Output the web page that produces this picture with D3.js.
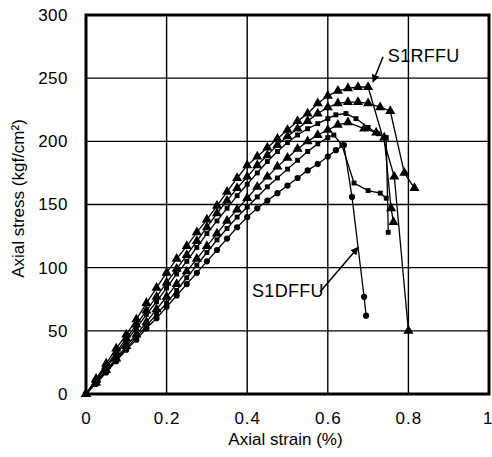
<!DOCTYPE html>
<html>
<head>
<meta charset="utf-8">
<script src="https://cdn.jsdelivr.net/npm/d3@7"></script>
<style>
  body { margin: 0; background: #fff; }
  text { font-family: "Liberation Sans", Arial, sans-serif; fill: #000; }
</style>
</head>
<body>
<div id="chart"></div>
<script>
// axial stress-strain curves, strain in %, stress in kgf/cm2
const xTicks = [0, 0.2, 0.4, 0.6, 0.8, 1];
const yTicks = [0, 50, 100, 150, 200, 250, 300];

const curve1 = [[0,0],[0.025,12],[0.05,24],[0.075,36],[0.1,47],[0.125,59],[0.15,72],[0.175,84],[0.2,96],[0.225,107],[0.25,117],[0.275,128],[0.3,138],[0.325,149],[0.35,160],[0.375,171],[0.4,181],[0.425,188],[0.45,195],[0.475,202],[0.5,209],[0.525,216],[0.55,222],[0.575,230],[0.6,236],[0.625,240],[0.65,242],[0.675,243],[0.70,243],[0.765,172],[0.80,50]];
const curve2 = [[0,0],[0.025,11],[0.05,22],[0.075,33],[0.1,44],[0.125,55],[0.15,66],[0.175,77],[0.2,88],[0.225,99],[0.25,110],[0.275,121],[0.3,132],[0.325,143],[0.35,153],[0.375,163],[0.4,172],[0.425,181],[0.45,189],[0.475,197],[0.5,204],[0.525,210],[0.55,216],[0.575,222],[0.6,227],[0.625,230],[0.65,231],[0.675,231],[0.70,230],[0.73,227],[0.755,224],[0.79,175],[0.815,163]];
const curve3 = [[0,0],[0.025,10],[0.05,21],[0.075,31],[0.1,42],[0.125,52],[0.15,63],[0.175,73],[0.2,84],[0.225,95],[0.25,105],[0.275,116],[0.3,127],[0.325,137],[0.35,147],[0.375,157],[0.4,166],[0.425,175],[0.45,184],[0.475,192],[0.5,199],[0.525,205],[0.55,210],[0.575,214],[0.6,218],[0.62,221],[0.645,222],[0.67,218],[0.70,211],[0.725,206],[0.745,203],[0.75,128]];
const curve4 = [[0,0],[0.025,9],[0.05,19],[0.075,28],[0.1,38],[0.125,47],[0.15,57],[0.175,67],[0.2,77],[0.225,87],[0.25,97],[0.275,107],[0.3,117],[0.325,127],[0.35,137],[0.375,146],[0.4,155],[0.425,164],[0.45,172],[0.475,180],[0.5,187],[0.525,194],[0.55,200],[0.575,205],[0.6,209],[0.625,213],[0.65,215],[0.69,210],[0.72,207],[0.74,203],[0.757,147],[0.763,136]];
const curve5 = [[0,0],[0.025,9],[0.05,18],[0.075,27],[0.1,36],[0.125,45],[0.15,54],[0.175,63],[0.2,72],[0.225,82],[0.25,92],[0.275,102],[0.3,112],[0.325,122],[0.35,131],[0.375,140],[0.4,148],[0.425,156],[0.45,164],[0.475,171],[0.5,178],[0.525,185],[0.55,192],[0.575,198],[0.6,203],[0.615,205],[0.635,197],[0.665,167],[0.70,161],[0.73,159],[0.745,155]];
const curve6 = [[0,0],[0.025,8],[0.05,17],[0.075,26],[0.1,35],[0.125,43],[0.15,52],[0.175,60],[0.2,69],[0.225,78],[0.25,87],[0.275,96],[0.3,105],[0.325,114],[0.35,123],[0.375,132],[0.4,140],[0.425,147],[0.45,153],[0.475,159],[0.5,165],[0.525,171],[0.55,177],[0.575,182],[0.6,188],[0.62,193],[0.64,197],[0.66,156],[0.69,77],[0.695,62]];

const series = [
    { data: curve1, marker: "triangle" },
    { data: curve2, marker: "triangle" },
    { data: curve3, marker: "square" },
    { data: curve4, marker: "triangle" },
    { data: curve5, marker: "square" },
    { data: curve6, marker: "circle" }
];

// label text, arrow start and arrow tip, in data units
const labels = [
    { text: "S1RFFU", at: [0.749, 263], from: [0.737, 267], to: [0.712, 247] },
    { text: "S1DFFU", at: [0.412, 77], from: [0.581, 81], to: [0.675, 116] }
];

const width = 492, height = 457;
const margin = { top: 15, right: 3, bottom: 63, left: 86 };

const svg = d3.select("#chart").append("svg")
    .attr("width", width)
    .attr("height", height);

const x = d3.scaleLinear().domain([0, 1]).range([margin.left, width - margin.right]);
const y = d3.scaleLinear().domain([0, 300]).range([height - margin.bottom, margin.top]);

// grid
svg.append("g")
    .selectAll("line.vx")
    .data(xTicks)
    .enter().append("line")
    .attr("x1", d => x(d)).attr("x2", d => x(d))
    .attr("y1", y(0)).attr("y2", y(300))
    .attr("stroke", "#000").attr("stroke-width", 1.4);

svg.append("g")
    .selectAll("line.hy")
    .data(yTicks)
    .enter().append("line")
    .attr("x1", x(0)).attr("x2", x(1))
    .attr("y1", d => y(d)).attr("y2", d => y(d))
    .attr("stroke", "#000").attr("stroke-width", 1.4);

// frame
svg.append("rect")
    .attr("x", x(0)).attr("y", y(300))
    .attr("width", x(1) - x(0)).attr("height", y(0) - y(300))
    .attr("fill", "none").attr("stroke", "#000").attr("stroke-width", 3);

// axes labels
const xAxis = d3.axisBottom(x).tickValues(xTicks).tickSize(0).tickPadding(18)
    .tickFormat(d3.format("~g"));
svg.append("g")
    .attr("transform", `translate(0,${y(0)})`)
    .call(xAxis)
    .call(g => g.select(".domain").remove())
    .selectAll("text")
    .style("font-size", "17px")
    .style("letter-spacing", "1px")
    .attr("fill", "#000")
    .attr("text-anchor", d => d === 1 ? "end" : "middle")
    .attr("dx", d => d === 1 ? 4 : 0);

const yAxis = d3.axisLeft(y).tickValues(yTicks).tickSize(0).tickPadding(18);
svg.append("g")
    .attr("transform", `translate(${x(0)},0)`)
    .call(yAxis)
    .call(g => g.select(".domain").remove())
    .selectAll("text")
    .style("font-size", "17px")
    .style("letter-spacing", "0.5px")
    .attr("fill", "#000");

svg.append("text")
    .attr("x", (x(0) + x(1)) / 2 - 2)
    .attr("y", height - 12)
    .attr("text-anchor", "middle")
    .style("font-size", "17px")
    .text("Axial strain (%)");

svg.append("text")
    .attr("transform", `translate(24,${(y(0) + y(300)) / 2 - 6}) rotate(-90)`)
    .attr("text-anchor", "middle")
    .style("font-size", "17px")
    .text("Axial stress (kgf/cm²)");

// curves
const line = d3.line().x(d => x(d[0])).y(d => y(d[1]));

svg.append("g")
    .selectAll("path.curve")
    .data(series)
    .enter().append("path")
    .attr("d", d => line(d.data))
    .attr("fill", "none")
    .attr("stroke", "#000")
    .attr("stroke-width", 1.3);

const symbols = {
    triangle: d3.symbol().type(d3.symbolTriangle).size(44),
    square: d3.symbol().type(d3.symbolSquare).size(24),
    circle: d3.symbol().type(d3.symbolCircle).size(30)
};

series.forEach(s => {
    svg.append("g")
        .selectAll("path")
        .data(s.data)
        .enter().append("path")
        .attr("transform", d => `translate(${x(d[0])},${y(d[1])})`)
        .attr("d", symbols[s.marker]())
        .attr("fill", "#000");
});

// annotations
svg.append("defs").append("marker")
    .attr("id", "arrow")
    .attr("viewBox", "0 0 10 10")
    .attr("refX", 9).attr("refY", 5)
    .attr("markerWidth", 8).attr("markerHeight", 8)
    .attr("markerUnits", "userSpaceOnUse")
    .attr("orient", "auto")
    .append("path")
    .attr("d", "M0,0L10,5L0,10Z")
    .attr("fill", "#000");

labels.forEach(l => {
    svg.append("line")
        .attr("x1", x(l.from[0])).attr("y1", y(l.from[1]))
        .attr("x2", x(l.to[0])).attr("y2", y(l.to[1]))
        .attr("stroke", "#000").attr("stroke-width", 1.5)
        .attr("marker-end", "url(#arrow)");
    svg.append("text")
        .attr("x", x(l.at[0])).attr("y", y(l.at[1]))
        .style("font-size", "18px")
        .style("letter-spacing", "0.3px")
        .text(l.text);
});
</script>
</body>
</html>
